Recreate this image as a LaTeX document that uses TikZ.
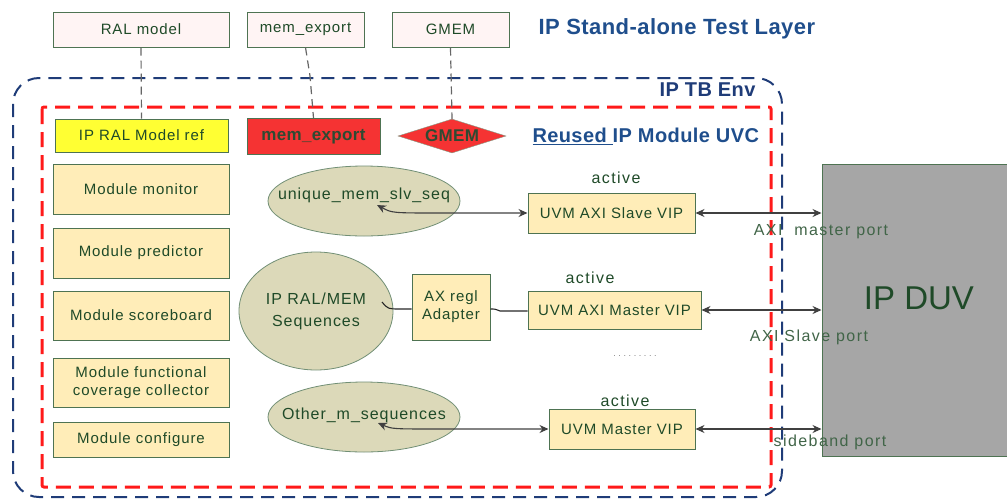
\documentclass[tikz,border=0pt]{standalone}
\usepackage{fontspec}
\setmainfont{Liberation Sans}
\newfontfamily\spacedfont[LetterSpace=6]{Liberation Sans}
\newfontfamily\widefont[LetterSpace=9]{Liberation Sans}
\newfontfamily\headfont[LetterSpace=2]{Liberation Sans}
\usetikzlibrary{shapes.geometric,arrows.meta}
\definecolor{edgegreen}{HTML}{4E7352}
\definecolor{textgreen}{HTML}{1F4A28}
\definecolor{titleblue}{HTML}{1F4E8C}
\definecolor{envblue}{HTML}{1F3C78}
\definecolor{uvcred}{HTML}{FF1A1A}
\definecolor{topfill}{HTML}{FFF4F4}
\definecolor{reffill}{HTML}{FFFF33}
\definecolor{memred}{HTML}{F53333}
\definecolor{tanfill}{HTML}{FFEDB8}
\definecolor{seqfill}{HTML}{DCD9B9}
\definecolor{duvgray}{HTML}{A6A6A6}
\definecolor{wiregray}{HTML}{404040}
\definecolor{boldtext}{HTML}{2E4A32}
% text of fixed-size shapes is given no width, so the outline keeps its size
\newcommand\fixedtext[1]{\smash{\makebox[0pt]{\begin{tabular}{@{}c@{}}#1\end{tabular}}}}
\tikzset{
  every node/.style={font=\spacedfont\fontsize{15}{18}\selectfont, text=textgreen},
  topbox/.style={draw=edgegreen, line width=1pt, fill=topfill, inner sep=0pt},
  tanbox/.style={draw=edgegreen, line width=1pt, fill=tanfill, inner sep=0pt, align=center},
  seq/.style={ellipse, draw=edgegreen!80, line width=0.8pt, fill=seqfill, inner sep=0pt, font=\spacedfont\fontsize{16}{21}\selectfont},
  link/.style={draw=wiregray!80, line width=1.2pt, dash pattern=on 8pt off 5pt},
  biwire/.style={draw=wiregray, line width=1.1pt, {Stealth[length=9pt,width=8pt]}-{Stealth[length=9pt,width=8pt]}},
  wire/.style={draw=black!85, line width=1.1pt},
  portlbl/.style={font=\widefont\fontsize{16}{18}\selectfont, text=textgreen!85},
  actlbl/.style={font=\widefont\fontsize{16}{18}\selectfont},
  heading/.style={font=\headfont\bfseries\fontsize{20}{24}\selectfont, text=titleblue},
  redtext/.style={font=\headfont\bfseries\fontsize{17}{20}\selectfont, text=boldtext},
}
\begin{document}
\begin{tikzpicture}[x=1pt,y=-1pt]
\useasboundingbox (0,0) rectangle (1007,499);

% environment frames
\draw[envblue, line width=2pt, dash pattern=on 13pt off 8pt, rounded corners=26pt] (13,78) rectangle (782,497);
\draw[uvcred, line width=3pt, dash pattern=on 15pt off 8pt, rounded corners=2pt] (42,107) rectangle (771,487);

% test layer components
\node[topbox, minimum width=176pt, minimum height=35pt] (ral) at (141,29.5) {RAL model};
\node[topbox, minimum width=117pt, minimum height=35pt] (memtop) at (305.5,29.5) {mem\_export};
\node[topbox, minimum width=117pt, minimum height=35pt] (gtop) at (450.5,29.5) {GMEM};
\node[heading, font=\headfont\bfseries\fontsize{22}{26}\selectfont, anchor=west] (layer) at (535,29) {IP Stand-alone Test Layer};

\node[heading, anchor=east, text=envblue] (env) at (759,90) {IP TB Env};
\node[heading, anchor=west] (uvc) at (529,136) {\underline{Reused }IP Module UVC};

% references inside the UVC
\node[topbox, fill=reffill, minimum width=173pt, minimum height=33pt] (ralref) at (141.5,135.5) {IP RAL Model ref};
\node[topbox, fill=memred, minimum width=133pt, minimum height=36pt, redtext] (memref) at (313.5,136.5) {mem\_export};
\node[diamond, draw=edgegreen!70, fill=memred, minimum width=108pt, minimum height=34pt, inner sep=0pt, redtext] (gref) at (452,136) {\raisebox{-12pt}{\fixedtext{GMEM}}};

\draw[link] (ral.south) -- (ralref.north);
\draw[link] (memtop.south) -- (310,76) -- (memref.north);
\draw[link] (gtop.south) -- (gref.north);

% module components
\node[tanbox, minimum width=176pt, minimum height=50pt] (mon) at (141,189) {Module monitor};
\node[tanbox, minimum width=176pt, minimum height=50pt] (pred) at (141,253) {Module predictor};
\node[tanbox, minimum width=176pt, minimum height=49pt] (sb) at (141,315.5) {Module scoreboard};
\node[tanbox, minimum width=176pt, minimum height=49pt] (cov) at (141,382.5) {Module functional\\coverage collector};
\node[tanbox, minimum width=176pt, minimum height=35pt] (cfg) at (141,439.5) {Module configure};

% sequences
\node[seq, minimum width=192pt, minimum height=70pt] (useq) at (364,201) {\raisebox{2pt}{\fixedtext{unique\_mem\_slv\_seq}}};
\node[seq, minimum width=154pt, minimum height=118pt] (ralseq) at (316,311) {\raisebox{-10pt}{\fixedtext{IP RAL/MEM\\[1pt]Sequences}}};
\node[seq, minimum width=192pt, minimum height=70pt] (oseq) at (364,417) {\raisebox{-5pt}{\fixedtext{Other\_m\_sequences}}};

\node[tanbox, minimum width=78pt, minimum height=66pt] (adp) at (451,307) {AX regl\\Adapter};

% verification IPs
\node[tanbox, minimum width=167pt, minimum height=40pt] (slv) at (611.5,213) {UVM AXI Slave VIP};
\node[tanbox, minimum width=173pt, minimum height=38pt] (msv) at (614.5,310) {UVM AXI Master VIP};
\node[tanbox, minimum width=146pt, minimum height=40pt] (umv) at (622,429) {UVM Master VIP};
\node[actlbl] (act1) at (616,178) {active};
\node[actlbl] (act2) at (590,278) {active};
\node[actlbl] (act3) at (625,401) {active};
\node[text=gray, font=\fontsize{9}{10}\selectfont] (dots) at (635,356) {.\hspace{2.6pt}.\hspace{2.6pt}.\hspace{2.6pt}.\hspace{2.6pt}.\hspace{2.6pt}.\hspace{2.6pt}.\hspace{2.6pt}.\hspace{2.6pt}.};

% design under verification
\node[draw=edgegreen, line width=1pt, fill=duvgray, minimum width=190pt, minimum height=292pt, inner sep=0pt] (duv) at (917,310) {};
\node[font=\fontsize{33}{38}\selectfont] (duvtext) at (919,298) {IP DUV};

% sequence to VIP connections
\coordinate (utip) at (377,205);
\coordinate (otip) at (378,423);
\coordinate (rtip) at (382,302);
\draw[biwire] (utip) .. controls (392,213) .. (440,213) -- (slv.west);
\draw[biwire] (otip) .. controls (392,429) .. (440,429) -- (umv.west);
\draw[wire] (rtip) .. controls (388,309) .. (400,309) -- (adp.west |- 0,309);
\draw[wire] (adp.east |- 0,309) .. controls (495,309) .. (500,311) -- (msv.west |- 0,311);

% VIP to DUV ports
\draw[biwire] (slv.east) -- (slv.east -| duv.west);
\draw[biwire] (msv.east) -- (msv.east -| duv.west);
\draw[biwire] (umv.east) -- (umv.east -| duv.west);
\node[portlbl] (p1) at (821,232) {AXI\ \ master port};
\node[portlbl] (p2) at (809,337) {AXI Slave port};
\node[portlbl] (p3) at (830,442) {sideband port};
\end{tikzpicture}
\end{document}
